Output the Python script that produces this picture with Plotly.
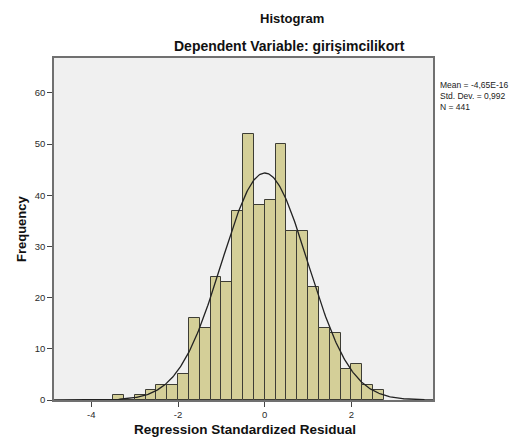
import numpy as np
import plotly.graph_objects as go

# Bin left edges (width 0.25) and counts
bin_starts = [-3.5, -3.25, -3.0, -2.75, -2.5, -2.25, -2.0, -1.75, -1.5, -1.25, -1.0,
              -0.75, -0.5, -0.25, 0.0, 0.25, 0.5, 0.75, 1.0, 1.25, 1.5, 1.75, 2.0,
              2.25, 2.5]
counts = [1, 0, 1, 2, 3, 3, 5, 16, 14, 24, 23,
          37, 52, 38, 39, 50, 33, 33, 22, 14, 13, 6, 7,
          3, 2]
bin_width = 0.25

stat_mean = -4.65e-16
stat_sd = 0.992
stat_n = 441

x_ticks = [-4, -2, 0, 2]
y_ticks = [0, 10, 20, 30, 40, 50, 60]

centers = [s + bin_width / 2 for s in bin_starts]

curve_x = np.linspace(-4.86, 3.88, 400)
curve_y = stat_n * bin_width / (stat_sd * np.sqrt(2 * np.pi)) * np.exp(-0.5 * ((curve_x - stat_mean) / stat_sd) ** 2)

fig = go.Figure()
fig.add_trace(go.Bar(
    x=centers, y=counts, width=[bin_width] * len(centers),
    marker=dict(color="#D4CF98", line=dict(color="#3d3d35", width=1)),
    hoverinfo="x+y",
))
fig.add_trace(go.Scatter(
    x=curve_x, y=curve_y, mode="lines",
    line=dict(color="#222222", width=1.3),
    hoverinfo="skip",
))

font = "Liberation Sans, Arial, sans-serif"
W, H = 521, 438
L, R, T, B = 54, 433, 58, 400
pw, ph = R - L, B - T

def px_x(x):
    return (x - L) / pw

def px_y(y):
    return (B - y) / ph

fig.update_layout(
    width=W, height=H,
    margin=dict(l=L, r=W - R, t=T, b=H - B),
    paper_bgcolor="white",
    plot_bgcolor="#F0F0F0",
    showlegend=False,
    bargap=0,
    font=dict(family=font, size=9, color="#333333"),
    xaxis=dict(
        range=[-4.86, 3.88], tickvals=x_ticks, ticktext=[str(v) for v in x_ticks],
        showgrid=False, zeroline=False, showline=True, mirror=True,
        linecolor="#707070", linewidth=1.5, ticks="outside", ticklen=5,
        tickcolor="#444444", tickfont=dict(size=9.5, color="#2a2a2a"),
    ),
    yaxis=dict(
        range=[0, 66.8], tickvals=y_ticks,
        showgrid=False, zeroline=False, showline=True, mirror=True,
        linecolor="#707070", linewidth=1.5, ticks="outside", ticklen=5,
        tickcolor="#444444", tickfont=dict(size=9.5, color="#2a2a2a"),
    ),
    annotations=[
        dict(text="<b>Histogram</b>", xref="paper", yref="paper",
             x=px_x(292), y=px_y(18), xanchor="center", yanchor="middle", showarrow=False,
             font=dict(size=13, color="#111111", family=font)),
        dict(text="<b>Dependent Variable: girişimcilikort</b>", xref="paper", yref="paper",
             x=px_x(289), y=px_y(46), xanchor="center", yanchor="middle", showarrow=False,
             font=dict(size=14, color="#111111", family=font)),
        dict(text="<b>Regression Standardized Residual</b>", xref="paper", yref="paper",
             x=px_x(245), y=px_y(429), xanchor="center", yanchor="middle", showarrow=False,
             font=dict(size=13.5, color="#111111", family=font)),
        dict(text="<b>Frequency</b>", xref="paper", yref="paper",
             x=px_x(21), y=px_y(229), xanchor="center", yanchor="middle", showarrow=False,
             textangle=-90,
             font=dict(size=13, color="#111111", family=font)),
        dict(text="Mean = -4,65E-16<br>Std. Dev. = 0,992<br>N = 441",
             xref="paper", yref="paper", x=px_x(438), y=px_y(78),
             xanchor="left", yanchor="top", align="left", showarrow=False,
             font=dict(size=8.5, color="#222222", family=font)),
    ],
)

fig.write_html(
    "out.html",
    config={"displayModeBar": False},
    post_script="document.body.style.margin='0';document.body.style.overflow='hidden';",
)
